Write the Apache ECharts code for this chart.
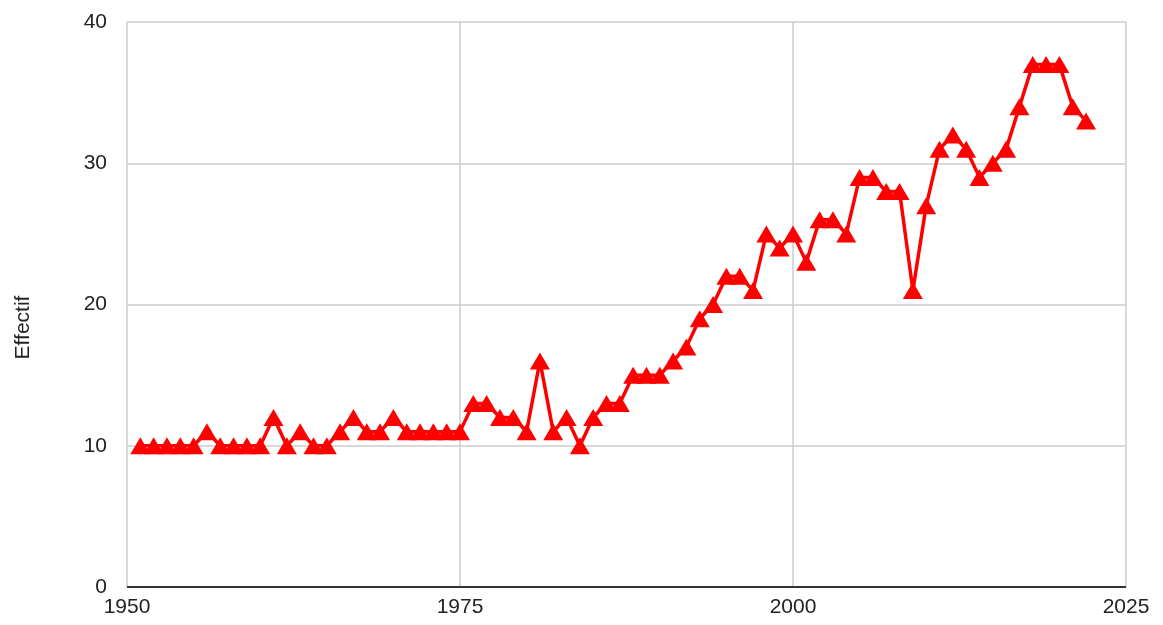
<!DOCTYPE html>
<html>
<head>
<meta charset="utf-8">
<script src="https://cdn.jsdelivr.net/npm/echarts@6/dist/echarts.min.js"></script>
<style>
  html, body { margin: 0; padding: 0; background: #fff; }
  #chart { width: 1163px; height: 625px; }
</style>
</head>
<body>
<div id="chart"></div>
<script>
const years = [
  1951, 1952, 1953, 1954, 1955, 1956, 1957, 1958, 1959, 1960,
  1961, 1962, 1963, 1964, 1965, 1966, 1967, 1968, 1969, 1970,
  1971, 1972, 1973, 1974, 1975, 1976, 1977, 1978, 1979, 1980,
  1981, 1982, 1983, 1984, 1985, 1986, 1987, 1988, 1989, 1990,
  1991, 1992, 1993, 1994, 1995, 1996, 1997, 1998, 1999, 2000,
  2001, 2002, 2003, 2004, 2005, 2006, 2007, 2008, 2009, 2010,
  2011, 2012, 2013, 2014, 2015, 2016, 2017, 2018, 2019, 2020,
  2021, 2022
];
const effectif = [
  10, 10, 10, 10, 10, 11, 10, 10, 10, 10,
  12, 10, 11, 10, 10, 11, 12, 11, 11, 12,
  11, 11, 11, 11, 11, 13, 13, 12, 12, 11,
  16, 11, 12, 10, 12, 13, 13, 15, 15, 15,
  16, 17, 19, 20, 22, 22, 21, 25, 24, 25,
  23, 26, 26, 25, 29, 29, 28, 28, 21, 27,
  31, 32, 31, 29, 30, 31, 34, 37, 37, 37,
  34, 33
];
const yName = "Effectif";

const chart = echarts.init(document.getElementById("chart"));
const font = "Liberation Sans, Arial, sans-serif";

const option = {
  animation: false,
  grid: { left: 127, right: 37, top: 22, bottom: 38 },
  xAxis: {
    type: "value",
    min: 1950,
    max: 2025,
    interval: 25,
    axisLine: { show: false },
    axisTick: { show: false },
    axisLabel: {
      color: "#222", fontSize: 21, fontFamily: font, margin: 10,
      formatter: (v) => String(v)
    },
    splitLine: { lineStyle: { color: "#cccccc", width: 1.5 } }
  },
  yAxis: {
    type: "value",
    min: 0,
    max: 40,
    interval: 10,
    name: yName,
    nameLocation: "middle",
    nameGap: 93,
    nameTextStyle: { color: "#222", fontSize: 21, fontFamily: font, padding: [0, 46, 0, 0] },
    axisLine: { show: false },
    axisTick: { show: false },
    axisLabel: { color: "#222", fontSize: 21, fontFamily: font, margin: 20 },
    splitLine: { lineStyle: { color: "#cccccc", width: 1.5 } }
  },
  series: [
    {
      type: "line",
      data: years.map((y, i) => [y, effectif[i]]),
      symbol: "triangle",
      symbolSize: [20, 17],
      lineStyle: { color: "#ff0000", width: 3.5 },
      itemStyle: { color: "#ff0000" },
      markLine: {
        silent: true,
        symbol: "none",
        label: { show: false },
        lineStyle: { color: "#333", width: 2, type: "solid" },
        data: [{ yAxis: 0 }]
      }
    }
  ]
};
chart.setOption(option);
</script>
</body>
</html>
